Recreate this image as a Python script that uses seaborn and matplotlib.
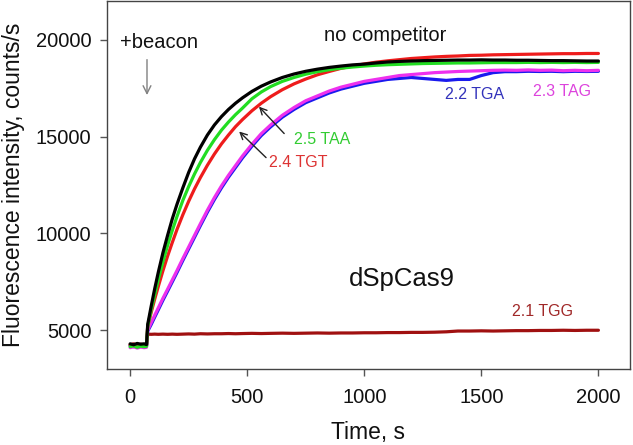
import numpy as np
import pandas as pd
import matplotlib
matplotlib.use("Agg")
import matplotlib.pyplot as plt
import seaborn as sns

# ---------------- data ----------------
time_s = [0, 15, 30, 45, 60, 70, 75, 90, 105, 120, 140, 160, 180, 200, 225, 250,
          275, 300, 330, 360, 390, 420, 450, 480, 520, 560, 600, 650, 700, 750,
          800, 850, 900, 950, 1000, 1050, 1100, 1150, 1200, 1250, 1300, 1350,
          1400, 1450, 1500, 1550, 1600, 1650, 1700, 1750, 1800, 1850, 1900,
          1950, 2000]

no_competitor = [4300, 4250, 4320, 4280, 4300, 4260, 5300, 6250, 7150, 7980, 9000,
                 9900, 10750, 11500, 12350, 13150, 13850, 14450, 15080, 15600,
                 16030, 16400, 16720, 17000, 17330, 17600, 17820, 18050, 18230,
                 18370, 18480, 18570, 18640, 18700, 18740, 18800, 18850, 18880,
                 18900, 18920, 18930, 18940, 18950, 18950, 18960, 18950, 18950,
                 18940, 18940, 18930, 18920, 18920, 18910, 18900, 18900]

taa_2_5 = [4150, 4200, 4120, 4180, 4150, 4170, 5200, 6050, 6850, 7600, 8530,
           9380, 10150, 10870, 11700, 12420, 13070, 13660, 14290, 14840, 15330,
           15750, 16130, 16470, 16950, 17300, 17580, 17850, 18050, 18220, 18350,
           18450, 18530, 18590, 18640, 18680, 18710, 18730, 18750, 18770, 18780,
           18790, 18800, 18800, 18810, 18820, 18820, 18820, 18830, 18820, 18830,
           18820, 18830, 18820, 18830]

tgt_2_4 = [4250, 4200, 4280, 4220, 4250, 4230, 5200, 5920, 6610, 7250, 8070,
           8830, 9530, 10200, 10960, 11660, 12300, 12880, 13520, 14100, 14620,
           15080, 15510, 15880, 16330, 16720, 17060, 17420, 17720, 17970, 18190,
           18360, 18520, 18640, 18750, 18840, 18910, 18970, 19030, 19070, 19110,
           19140, 19160, 19190, 19200, 19220, 19230, 19240, 19250, 19260, 19270,
           19280, 19280, 19290, 19290]

tga_2_2 = [4200, 4150, 4230, 4170, 4200, 4180, 4950, 5300, 5680, 6050, 6550,
           7020, 7500, 7980, 8600, 9200, 9800, 10400, 11100, 11750, 12350,
           12900, 13400, 13900, 14500, 15050, 15500, 16000, 16400, 16750, 17000,
           17250, 17450, 17600, 17750, 17850, 17950, 18000, 18050, 18000, 17950,
           17900, 17950, 17950, 18150, 18300, 18350, 18350, 18370, 18360, 18370,
           18350, 18370, 18360, 18370]

tag_2_3 = [4100, 4150, 4080, 4130, 4100, 4120, 5000, 5400, 5780, 6150, 6650,
           7120, 7600, 8080, 8700, 9300, 9900, 10500, 11200, 11850, 12450,
           13000, 13500, 14000, 14600, 15150, 15600, 16100, 16500, 16850, 17100,
           17350, 17550, 17700, 17850, 17950, 18050, 18150, 18200, 18250, 18300,
           18330, 18360, 18380, 18400, 18420, 18430, 18420, 18440, 18420, 18430,
           18400, 18420, 18400, 18420]

tgg_2_1 = [4250, 4300, 4220, 4280, 4250, 4270, 4800, 4790, 4800, 4790, 4800,
           4790, 4800, 4790, 4800, 4810, 4800, 4820, 4810, 4820, 4820, 4830,
           4820, 4830, 4840, 4830, 4840, 4850, 4840, 4850, 4860, 4850, 4860,
           4860, 4870, 4870, 4880, 4880, 4890, 4890, 4900, 4920, 4960, 4960,
           4970, 4960, 4970, 4980, 4980, 4990, 4990, 5000, 4990, 5000, 5000]

series_names = ["2.1 TGG", "2.2 TGA", "2.3 TAG", "2.4 TGT", "2.5 TAA", "no competitor"]
series_values = [tgg_2_1, tga_2_2, tag_2_3, tgt_2_4, taa_2_5, no_competitor]
line_colors = ["#a01010", "#1a1aee", "#ee30ee", "#ee1c1c", "#22dd22", "#000000"]

x_ticks = [0, 500, 1000, 1500, 2000]
y_ticks = [5000, 10000, 15000, 20000]

# long-form table built from the arrays
df = pd.concat([pd.DataFrame({"time": time_s, "value": v, "series": n})
                for n, v in zip(series_names, series_values)], ignore_index=True)

# ---------------- plotting ----------------
sns.set_style("white")
plt.rcParams["font.family"] = ["Liberation Sans", "DejaVu Sans"]

fig = plt.figure(figsize=(6.33, 4.45), dpi=100)
ax = fig.add_axes([0.1686, 0.1708, 0.8267, 0.827])

sns.lineplot(data=df, x="time", y="value", hue="series", hue_order=series_names,
             palette=dict(zip(series_names, line_colors)), estimator=None,
             sort=False, linewidth=2.3, legend=False, ax=ax)

ax.set_xlim(-100, 2135)
ax.set_ylim(3000, 22000)
ax.set_xticks(x_ticks)
ax.set_yticks(y_ticks)
ax.set_xticklabels([str(t) for t in x_ticks])
ax.set_yticklabels([str(t) for t in y_ticks])
ax.tick_params(axis="both", which="both", direction="out", length=5, width=1,
               color="#555555", labelsize=14.5, labelcolor="#111111",
               bottom=True, left=True, top=False, right=False)
ax.tick_params(axis="x", pad=9)
ax.tick_params(axis="y", pad=6)
for sp in ax.spines.values():
    sp.set_visible(True)
    sp.set_color("#444444")
    sp.set_linewidth(1.0)

ax.set_xlabel("Time, s", fontsize=16.5, color="#111111", labelpad=10)
ax.set_ylabel("Fluorescence intensity, counts/s", fontsize=16.5, color="#111111",
              labelpad=8)

# annotations
ax.text(122, 19845, "+beacon", fontsize=14.5, ha="center", va="center", color="#111111")
ax.annotate("", xy=(72, 17000), xytext=(72, 19115),
            arrowprops=dict(arrowstyle="->", color="#808080", lw=1.0,
                            mutation_scale=14))
ax.text(1089, 20206, "no competitor", fontsize=14.5, ha="center", va="center",
        color="#111111")
ax.text(1162, 7630, "dSpCas9", fontsize=18.5, ha="center", va="center", color="#111111")
ax.text(1471, 17190, "2.2 TGA", fontsize=11.5, ha="center", va="center", color="#3333bb")
ax.text(1845, 17345, "2.3 TAG", fontsize=11.5, ha="center", va="center", color="#dd44dd")
ax.text(818, 14871, "2.5 TAA", fontsize=11.5, ha="center", va="center", color="#33cc33")
ax.text(720, 13686, "2.4 TGT", fontsize=11.5, ha="center", va="center", color="#dd3333")
ax.text(1762, 5954, "2.1 TGG", fontsize=11.5, ha="center", va="center", color="#a02828")
ax.annotate("", xy=(542, 16649), xytext=(666, 15052),
            arrowprops=dict(arrowstyle="->", color="#222222", lw=1.0, mutation_scale=12))
ax.annotate("", xy=(457, 15361), xytext=(589, 13814),
            arrowprops=dict(arrowstyle="->", color="#222222", lw=1.0, mutation_scale=12))

fig.savefig("out.png", dpi=100)
